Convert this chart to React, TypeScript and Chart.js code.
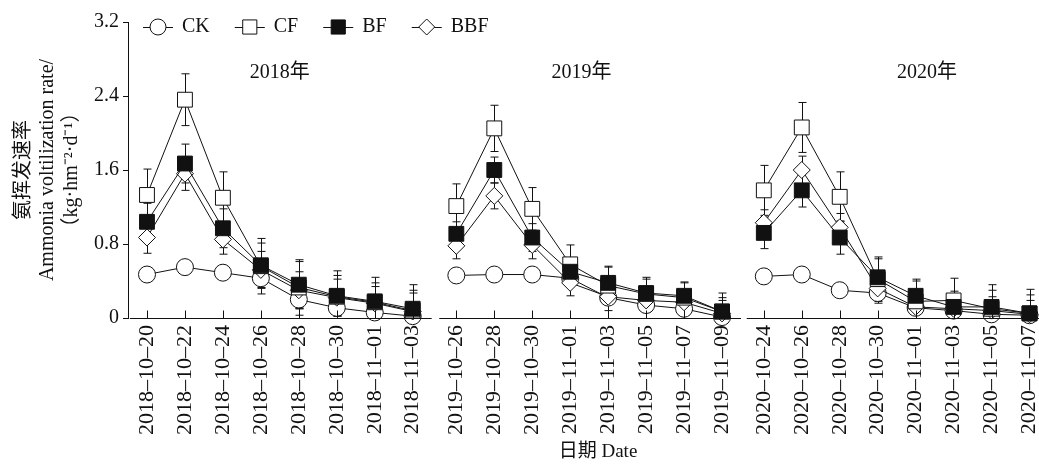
import React, { useEffect, useRef } from 'react';
import { Chart, registerables } from 'chart.js';

Chart.register(...registerables);

// ---------------- data ----------------
const SERIES_NAMES = ['CK', 'CF', 'BF', 'BBF'];
const YEAR_LABELS = ['2018年', '2019年', '2020年'];

const DATES_2018 = ['2018–10–20', '2018–10–22', '2018–10–24', '2018–10–26', '2018–10–28', '2018–10–30', '2018–11–01', '2018–11–03'];
const DATES_2019 = ['2019–10–26', '2019–10–28', '2019–10–30', '2019–11–01', '2019–11–03', '2019–11–05', '2019–11–07', '2019–11–09'];
const DATES_2020 = ['2020–10–24', '2020–10–26', '2020–10–28', '2020–10–30', '2020–11–01', '2020–11–03', '2020–11–05', '2020–11–07'];

// values: 2018 (8) | 2019 (8) | 2020 (8)
const CK = [0.47, 0.55, 0.49, 0.43, 0.20, 0.11, 0.06, 0.02, 0.46, 0.47, 0.47, 0.43, 0.22, 0.14, 0.10, 0.01, 0.45, 0.47, 0.30, 0.27, 0.11, 0.08, 0.04, 0.03];
const CF = [1.33, 2.36, 1.30, 0.56, 0.33, 0.23, 0.17, 0.08, 1.21, 2.05, 1.18, 0.58, 0.35, 0.26, 0.22, 0.07, 1.38, 2.06, 1.31, 0.42, 0.18, 0.19, 0.10, 0.05];
const BF = [1.04, 1.67, 0.97, 0.57, 0.36, 0.24, 0.18, 0.10, 0.91, 1.60, 0.87, 0.50, 0.38, 0.27, 0.24, 0.07, 0.92, 1.38, 0.87, 0.44, 0.24, 0.12, 0.12, 0.05];
const BBF = [0.87, 1.56, 0.85, 0.52, 0.30, 0.22, 0.16, 0.07, 0.78, 1.32, 0.79, 0.38, 0.23, 0.19, 0.17, 0.05, 1.03, 1.60, 0.98, 0.32, 0.12, 0.10, 0.08, 0.04];

const CK_ERR = [0.05, 0.05, 0.04, 0.06, 0.10, 0.08, 0.06, 0.04, 0.03, 0.03, 0.03, 0.05, 0.06, 0.05, 0.05, 0.03, 0.03, 0.03, 0.03, 0.06, 0.05, 0.04, 0.04, 0.03];
const CF_ERR = [0.28, 0.28, 0.28, 0.30, 0.30, 0.28, 0.27, 0.28, 0.24, 0.25, 0.23, 0.21, 0.20, 0.18, 0.16, 0.20, 0.27, 0.27, 0.27, 0.24, 0.22, 0.24, 0.26, 0.26];
const BF_ERR = [0.20, 0.21, 0.21, 0.24, 0.25, 0.22, 0.20, 0.20, 0.13, 0.14, 0.15, 0.15, 0.18, 0.15, 0.15, 0.15, 0.17, 0.18, 0.18, 0.20, 0.18, 0.17, 0.18, 0.20];
const BBF_ERR = [0.17, 0.18, 0.16, 0.20, 0.20, 0.20, 0.18, 0.20, 0.14, 0.14, 0.15, 0.14, 0.15, 0.13, 0.12, 0.14, 0.14, 0.15, 0.15, 0.16, 0.15, 0.15, 0.15, 0.15];

const Y_TICKS = [0, 0.8, 1.6, 2.4, 3.2];
const Y_TITLE = ['氨挥发速率', 'Ammonia voltilization rate/', '（kg·hm⁻²·d⁻¹）'];
const X_TITLE = '日期 Date';

// ---------------- layout constants ----------------
const ALL_DATES = [...DATES_2018, ...DATES_2019, ...DATES_2020];
const PANEL_START = [0, 8.15, 16.25];
const PER_PANEL = 8;
const YEAR_LABEL_OFFSET = [3.5, 3.3, 4.3];
const FONT = '"Liberation Serif", "Times New Roman", "Noto Sans CJK SC", serif';
const INK = '#111';

const xPositions = ALL_DATES.map((_, i) => PANEL_START[Math.floor(i / PER_PANEL)] + (i % PER_PANEL));

function buildData(vals: number[]) {
  const out: { x: number; y: number | null }[] = [];
  for (let p = 0; p < 3; p++) {
    for (let k = 0; k < PER_PANEL; k++) {
      const i = p * PER_PANEL + k;
      out.push({ x: xPositions[i], y: vals[i] });
    }
    if (p < 2) out.push({ x: PANEL_START[p] + 7.6, y: null });
  }
  return out;
}

const ERRORS = [CK_ERR, CF_ERR, BF_ERR, BBF_ERR];
const VALUES = [CK, CF, BF, BBF];

const STYLES = [
  { pointStyle: 'circle', radius: 8.5, fill: '#fff', order: 3 },
  { pointStyle: 'rect', radius: 10.5, fill: '#fff', order: 1 },
  { pointStyle: 'rect', radius: 10.5, fill: '#111', order: 0 },
  { pointStyle: 'rectRot', radius: 8.5, fill: '#fff', order: 2 },
];

function drawMarker(ctx: CanvasRenderingContext2D, style: string, r: number, x: number, y: number, fill: string) {
  ctx.beginPath();
  if (style === 'circle') {
    ctx.arc(x, y, r, 0, Math.PI * 2);
  } else if (style === 'rect') {
    const s = Math.SQRT1_2 * r;
    ctx.rect(x - s, y - s, 2 * s, 2 * s);
  } else {
    ctx.moveTo(x - r, y);
    ctx.lineTo(x, y - r);
    ctx.lineTo(x + r, y);
    ctx.lineTo(x, y + r);
    ctx.closePath();
  }
  ctx.fillStyle = fill;
  ctx.fill();
  ctx.strokeStyle = INK;
  ctx.lineWidth = 1;
  ctx.stroke();
}

const errorBarPlugin = {
  id: 'errorBars',
  beforeDatasetsDraw(chart: any) {
    const { ctx, scales } = chart;
    const xs = scales.x;
    const ys = scales.y;
    ctx.save();
    ctx.strokeStyle = INK;
    ctx.lineWidth = 1;
    VALUES.forEach((vals, s) => {
      vals.forEach((v, i) => {
        const e = ERRORS[s][i];
        const px = Math.round(xs.getPixelForValue(xPositions[i])) + 0.5;
        const top = ys.getPixelForValue(v + e);
        const bot = ys.getPixelForValue(Math.max(0, v - e));
        ctx.beginPath();
        ctx.moveTo(px, top);
        ctx.lineTo(px, bot);
        ctx.moveTo(px - 4, top);
        ctx.lineTo(px + 4, top);
        if (v - e > 0) {
          ctx.moveTo(px - 4, bot);
          ctx.lineTo(px + 4, bot);
        }
        ctx.stroke();
      });
    });
    ctx.restore();
  },
};

const axisPlugin = {
  id: 'brokenAxis',
  afterDraw(chart: any) {
    const { ctx, scales, chartArea } = chart;
    const xs = scales.x;
    const yb = Math.round(chartArea.bottom) + 0.5;
    ctx.save();
    ctx.strokeStyle = INK;
    ctx.lineWidth = 1;
    PANEL_START.forEach((st) => {
      const a = Math.max(chartArea.left, xs.getPixelForValue(st - 0.45));
      const b = Math.min(chartArea.right, xs.getPixelForValue(st + 7.5));
      ctx.beginPath();
      ctx.moveTo(a, yb);
      ctx.lineTo(b, yb);
      ctx.stroke();
    });
    xPositions.forEach((v) => {
      const px = Math.round(xs.getPixelForValue(v)) + 0.5;
      ctx.beginPath();
      ctx.moveTo(px, yb);
      ctx.lineTo(px, yb - 8);
      ctx.stroke();
    });
    // year labels
    ctx.fillStyle = INK;
    ctx.font = `20px ${FONT}`;
    ctx.textAlign = 'center';
    ctx.textBaseline = 'middle';
    YEAR_LABELS.forEach((t, p) => {
      ctx.fillText(t, xs.getPixelForValue(PANEL_START[p] + YEAR_LABEL_OFFSET[p]), 73);
    });
    // x title
    ctx.font = `19px ${FONT}`;
    ctx.fillText(X_TITLE, 598, 452);
    // legend
    let lx = chartArea.left + 15;
    const ly = 27;
    ctx.font = `20px ${FONT}`;
    ctx.textAlign = 'left';
    SERIES_NAMES.forEach((name, s) => {
      const st = STYLES[s];
      ctx.beginPath();
      ctx.moveTo(lx, ly + 0.5);
      ctx.lineTo(lx + 30, ly + 0.5);
      ctx.stroke();
      drawMarker(ctx, st.pointStyle, st.pointStyle === 'rect' ? 10 : 8, lx + 15, ly, st.fill);
      ctx.fillStyle = INK;
      ctx.fillText(name, lx + 39, ly);
      lx += 39 + ctx.measureText(name).width + 25;
    });
    ctx.restore();
  },
};

export default function App() {
  const ref = useRef<HTMLCanvasElement | null>(null);

  useEffect(() => {
    document.body.style.margin = '0';
    const canvas = ref.current;
    if (!canvas) return;
    const datasets = SERIES_NAMES.map((name, s) => ({
      label: name,
      data: buildData(VALUES[s]),
      borderColor: INK,
      borderWidth: 1,
      backgroundColor: STYLES[s].fill,
      pointStyle: STYLES[s].pointStyle,
      pointRadius: STYLES[s].radius,
      pointHoverRadius: STYLES[s].radius,
      pointBackgroundColor: STYLES[s].fill,
      pointBorderColor: INK,
      pointBorderWidth: 1,
      tension: 0,
      spanGaps: false,
      fill: false,
      clip: false,
      order: STYLES[s].order,
    }));

    const chart = new Chart(canvas, {
      type: 'line',
      data: { datasets } as any,
      plugins: [errorBarPlugin, axisPlugin],
      options: {
        animation: false,
        responsive: false,
        events: [],
        layout: { autoPadding: false, padding: { top: 22, left: 0, right: 0, bottom: 0 } },
        plugins: {
          legend: { display: false },
          tooltip: { enabled: false },
        },
        scales: {
          x: {
            type: 'linear',
            min: -0.5,
            max: 23.5,
            grid: { display: false, drawTicks: false },
            border: { display: false },
            afterBuildTicks: (scale: any) => {
              scale.ticks = xPositions.map((v) => ({ value: v }));
            },
            afterFit: (scale: any) => {
              scale.height = 148;
              scale.paddingLeft = 0;
              scale.paddingRight = 0;
            },
            ticks: {
              autoSkip: false,
              minRotation: 90,
              maxRotation: 90,
              padding: 7,
              color: INK,
              font: { family: FONT, size: 22 },
              callback: (_v: any, i: number) => ALL_DATES[i],
            },
          },
          y: {
            type: 'linear',
            min: 0,
            max: 3.2,
            afterBuildTicks: (scale: any) => {
              scale.ticks = Y_TICKS.map((v) => ({ value: v }));
            },
            afterFit: (scale: any) => {
              scale.width = 128;
              scale.paddingTop = 0;
              scale.paddingBottom = 0;
            },
            grid: { drawOnChartArea: false, tickLength: 5, color: INK },
            border: { display: true, color: INK, width: 1 },
            ticks: {
              padding: 4,
              color: INK,
              font: { family: FONT, size: 20 },
              callback: (v: any) => (v === 0 ? '0' : Number(v).toFixed(1)),
            },
            title: {
              display: true,
              text: Y_TITLE,
              color: INK,
              font: { family: FONT, size: 20 },
              padding: { top: 12, bottom: 4 },
            },
          },
        },
      } as any,
    });
    return () => chart.destroy();
  }, []);

  return (
    <div style={{ width: 1039, height: 466, background: '#fff' }}>
      <canvas ref={ref} width={1039} height={466} />
    </div>
  );
}
